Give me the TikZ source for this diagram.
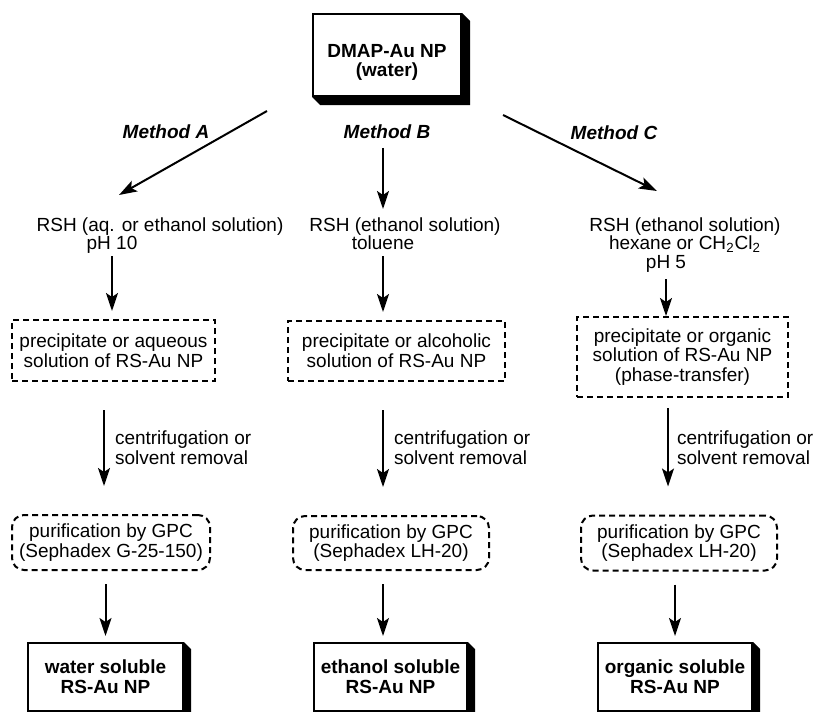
\documentclass[tikz,border=0pt]{standalone}
\usepackage{fontspec}
\setmainfont{Liberation Sans}
\usetikzlibrary{arrows.meta,positioning}

% black extruded edge on the right and bottom of a box node
\newcommand{\shadebox}[2]{%
  \fill (#1.north east) -- ([shift={(#2,#2)}]#1.north east) -- ([shift={(#2,#2)}]#1.south east)
    -- ([shift={(#2,#2)}]#1.south west) -- (#1.south west) -- (#1.south east) -- cycle;}

\begin{document}
\begin{tikzpicture}[
        x=0.5pt, y=-0.5pt,
        every node/.style={font=\fontsize{9.5pt}{9.8pt}\selectfont, inner sep=0pt, align=center},
        every path/.style={line width=1pt},
        txt/.style={text height=7pt, text depth=2pt},
        method/.style={font=\fontsize{9.5pt}{9.8pt}\selectfont\bfseries\itshape},
        pptbox/.style={draw, dash pattern=on 3pt off 2pt, fill=white},
        gpcbox/.style={pptbox, rounded corners=6pt},
        solbox/.style={draw, fill=white, font=\fontsize{9.5pt}{9.8pt}\selectfont\bfseries},
        arr/.style={-{Stealth[length=9pt,width=6pt,inset=2pt]}}
    ]
    \useasboundingbox (0,0) rectangle (814,712);

    % Nodes
    \node[solbox, minimum width=74pt, minimum height=41pt] (dmap) at (387,55) {\rule{0pt}{14pt}DMAP-Au NP\\(water)};

    \node[method] (methA) at (166,132) {Method A};
    \node[method] (methB) at (387,132) {Method B};
    \node[method] (methC) at (614,133) {Method C};

    % Method A
    \node[txt] (rshA) at (160,226) {RSH (aq. or ethanol solution)};
    \node[txt] (phA) at (112,244) {pH 10};
    \node[pptbox, minimum width=101.5pt, minimum height=30.5pt] (pptA) at (113.5,350.5) {precipitate or aqueous\\solution of RS-Au NP};
    \node[align=left, anchor=west] (centA) at (114,448) {centrifugation or\\solvent removal};
    \node[gpcbox, minimum width=99pt, minimum height=27.5pt] (gpcA) at (111,542.5) {purification by GPC\\(Sephadex G-25-150)};
    \node[solbox, minimum width=77.5pt, minimum height=34pt] (solA) at (105.5,677) {water soluble\\RS-Au NP};

    % Method B
    \node[txt] (rshB) at (405,226) {RSH (ethanol solution)};
    \node[txt] (tolB) at (383,244) {toluene};
    \node[pptbox, minimum width=108.5pt, minimum height=30pt] (pptB) at (396.5,351) {precipitate or alcoholic\\solution of RS-Au NP};
    \node[align=left, anchor=west] (centB) at (393,448) {centrifugation or\\solvent removal};
    \node[gpcbox, minimum width=98pt, minimum height=27pt] (gpcB) at (391,543) {purification by GPC\\(Sephadex LH-20)};
    \node[solbox, minimum width=76.5pt, minimum height=34pt] (solB) at (390.5,677) {ethanol soluble\\RS-Au NP};

    % Method C
    \node[txt] (rshC) at (685,226) {RSH (ethanol solution)};
    \node[txt] (hexC) at (685,244) {hexane or CH\textsubscript{2}Cl\textsubscript{2}};
    \node[txt] (phC) at (666,263) {pH 5};
    \node[pptbox, minimum width=105.5pt, minimum height=40pt] (pptC) at (682.5,357) {precipitate or organic\\solution of RS-Au NP\\(phase-transfer)};
    \node[align=left, anchor=west] (centC) at (676,448) {centrifugation or\\solvent removal};
    \node[gpcbox, minimum width=98pt, minimum height=27.5pt] (gpcC) at (679,543) {purification by GPC\\(Sephadex LH-20)};
    \node[solbox, minimum width=77pt, minimum height=34pt] (solC) at (675,677) {organic soluble\\RS-Au NP};

    % Shadows
    \shadebox{dmap}{8}
    \shadebox{solA}{7}
    \shadebox{solB}{7}
    \shadebox{solC}{7}

    % Arrows
    \coordinate (colA) at ([xshift=-5pt]centA.west);
    \coordinate (colB) at ([xshift=-5pt]centB.west);
    \coordinate (colC) at ([xshift=-4pt]centC.west);

    \draw[arr] ([shift={(-45,14)}]dmap.south west) -- ([shift={(-41,-21)}]rshA.north);
    \draw[arr, shorten <=4pt, shorten >=3.5pt] (methB.south -| tolB) -- (rshB.north -| tolB);
    \draw[arr] ([shift={(41,18)}]dmap.south east) -- ([shift={(-28,-25)}]rshC.north);

    \draw[arr, shorten <=1pt, shorten >=4pt] (phA) -- (phA |- pptA.north);
    \draw[arr, shorten <=1pt, shorten >=4pt] (tolB) -- (tolB |- pptB.north);
    \draw[arr, shorten <=3pt] (phC) -- (phC |- pptC.north);

    \draw[arr, shorten <=14pt, shorten >=14pt] (colA |- pptA.south) -- (colA |- gpcA.north);
    \draw[arr, shorten <=14pt, shorten >=14pt] (colB |- pptB.south) -- (colB |- gpcB.north);
    \draw[arr, shorten <=5pt, shorten >=14pt] (colC |- pptC.south) -- (colC |- gpcC.north);

    \draw[arr, shorten <=6.5pt, shorten >=3pt] (gpcA.south -| solA) -- (solA);
    \draw[arr, shorten <=6.5pt, shorten >=3pt] (gpcB.south -| colB) -- (colB |- solB.north);
    \draw[arr, shorten <=6.5pt, shorten >=3pt] (gpcC.south -| solC) -- (solC);

\end{tikzpicture}
\end{document}
